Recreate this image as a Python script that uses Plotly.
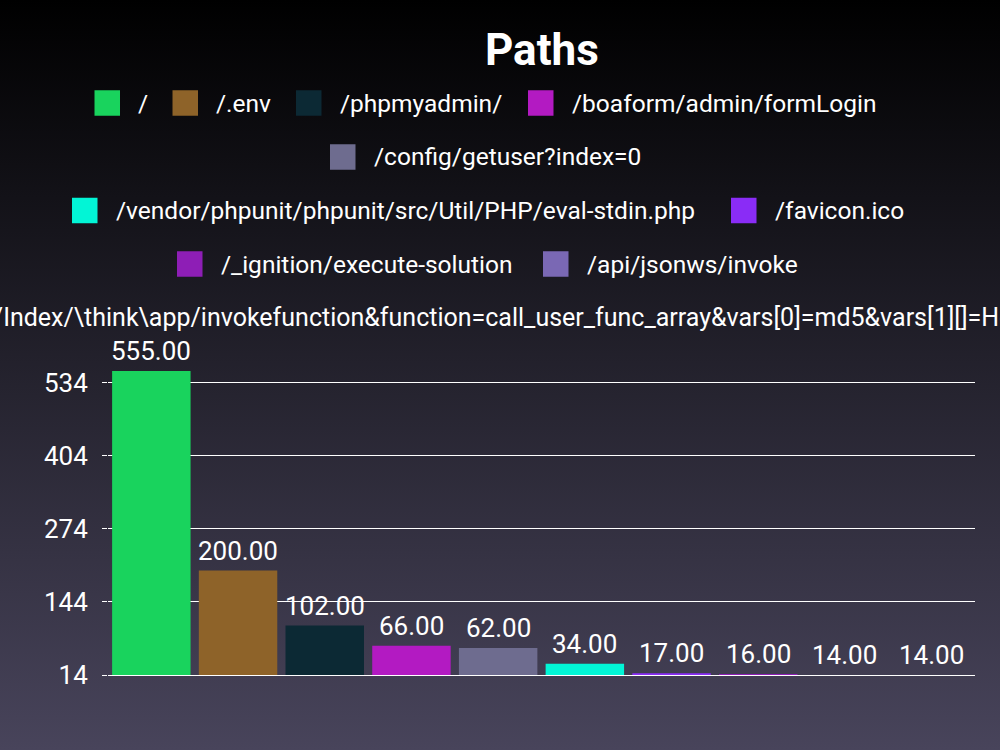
import base64
import plotly.graph_objects as go

# ---------------- data ----------------
paths = [
    "/",
    "/.env",
    "/phpmyadmin/",
    "/boaform/admin/formLogin",
    "/config/getuser?index=0",
    "/vendor/phpunit/phpunit/src/Util/PHP/eval-stdin.php",
    "/favicon.ico",
    "/_ignition/execute-solution",
    "/api/jsonws/invoke",
    "/index.php?s=/Index/\\think\\app/invokefunction&function=call_user_func_array&vars[0]=md5&vars[1][]=HelloThinkPHP21",
]
counts = [555, 200, 102, 66, 62, 34, 17, 16, 14, 14]
colors = ["#19d35d", "#8e6329", "#0c2934", "#b31ac2", "#6e6c8f",
          "#02f5d6", "#8a2cf6", "#8e1eb6", "#7a68b4", "#c23a6e"]
tick_values = [14, 144, 274, 404, 534]

# ---------------- layout helpers ----------------
W, H = 1000, 750
M_L, M_R, M_T, M_B = 108, 25, 357, 75
PLOT_W = W - M_L - M_R
PLOT_H = H - M_T - M_B


def px_x(x):
    return (x - M_L) / PLOT_W


def px_y(y):
    return (H - M_B - y) / PLOT_H


# legend rows: (row centre y in px, [(item index, square left px), ...])
legend_rows = [
    (103, [(0, 94.5), (1, 172.5), (2, 296), (3, 528)]),
    (157, [(4, 330)]),
    (210.5, [(5, 72), (6, 731)]),
    (264, [(7, 177), (8, 543)]),
]
SQ = 25.5
TEXT_GAP = 16
LEG_FONT = 24.5
LABEL_FONT = 26
TICK_FONT = 26

svg = (
    '<svg xmlns="http://www.w3.org/2000/svg" width="1000" height="750" preserveAspectRatio="none">'
    '<defs><linearGradient id="g" x1="0" y1="0" x2="0" y2="1">'
    '<stop offset="0" stop-color="#000000"/>'
    '<stop offset="1" stop-color="#48445b"/>'
    '</linearGradient></defs>'
    '<rect width="1000" height="750" fill="url(#g)"/></svg>'
)
bg_src = "data:image/svg+xml;base64," + base64.b64encode(svg.encode()).decode()

fig = go.Figure()
fig.add_trace(go.Bar(
    x=paths,
    y=counts,
    marker=dict(color=colors, line=dict(width=0)),
    showlegend=False,
    hoverinfo="x+y",
))

shapes = []
annotations = [
    dict(text="<b>Paths</b>", x=0.5, xref="paper", y=px_y(50), yref="paper",
         xanchor="center", yanchor="middle", showarrow=False,
         font=dict(size=44, color="#ffffff", family="Roboto")),
]
# value labels above each bar
for p, c in zip(paths, counts):
    annotations.append(dict(text=f"{c:.2f}", x=p, y=c, xref="x", yref="y",
                            xanchor="center", yanchor="bottom", yshift=3,
                            showarrow=False,
                            font=dict(size=LABEL_FONT, color="#ffffff", family="Roboto")))

for cy, items in legend_rows:
    for idx, sx in items:
        shapes.append(dict(type="rect", xref="paper", yref="paper",
                           x0=px_x(sx), x1=px_x(sx + SQ),
                           y0=px_y(cy + SQ / 2), y1=px_y(cy - SQ / 2),
                           fillcolor=colors[idx], line=dict(width=0), layer="above"))
        annotations.append(dict(text=paths[idx], x=px_x(sx + SQ + TEXT_GAP), xref="paper",
                                y=px_y(cy), yref="paper", xanchor="left", yanchor="middle",
                                showarrow=False,
                                font=dict(size=LEG_FONT, color="#ffffff", family="Roboto")))

# last (overflowing) legend row, centred like the others
last = len(paths) - 1
annotations.append(dict(text=paths[last], x=px_x(507), xref="paper",
                        y=px_y(317.5), yref="paper", xanchor="center", yanchor="middle",
                        showarrow=False,
                        font=dict(size=25, color="#ffffff", family="Roboto")))

fig.update_layout(
    width=W, height=H,
    margin=dict(l=M_L, r=M_R, t=M_T, b=M_B, pad=0),
    paper_bgcolor="#1e1d25",
    plot_bgcolor="rgba(0,0,0,0)",
    font=dict(family="Roboto", color="#ffffff"),
    bargap=0.095,
    showlegend=False,
    images=[dict(source=bg_src, xref="paper", yref="paper", x=-M_L / PLOT_W,
                 y=1 + M_T / PLOT_H, sizex=W / PLOT_W, sizey=H / PLOT_H,
                 xanchor="left", yanchor="top", sizing="stretch", layer="below")],
    shapes=shapes,
    annotations=annotations,
    xaxis=dict(showticklabels=False, showgrid=False, zeroline=False, ticks="",
               showline=True, linecolor="#ffffff", linewidth=1),
    yaxis=dict(range=[14, 580], tickvals=tick_values, ticktext=[str(v) for v in tick_values],
               showgrid=True, gridcolor="#ffffff", gridwidth=1, zeroline=False,
               ticks="outside", ticklen=5, tickcolor="#ffffff", tickwidth=1,
               ticklabelstandoff=9,
               tickfont=dict(size=TICK_FONT, color="#ffffff", family="Roboto"),
               showline=False),
)

fig.write_html("out.html")
